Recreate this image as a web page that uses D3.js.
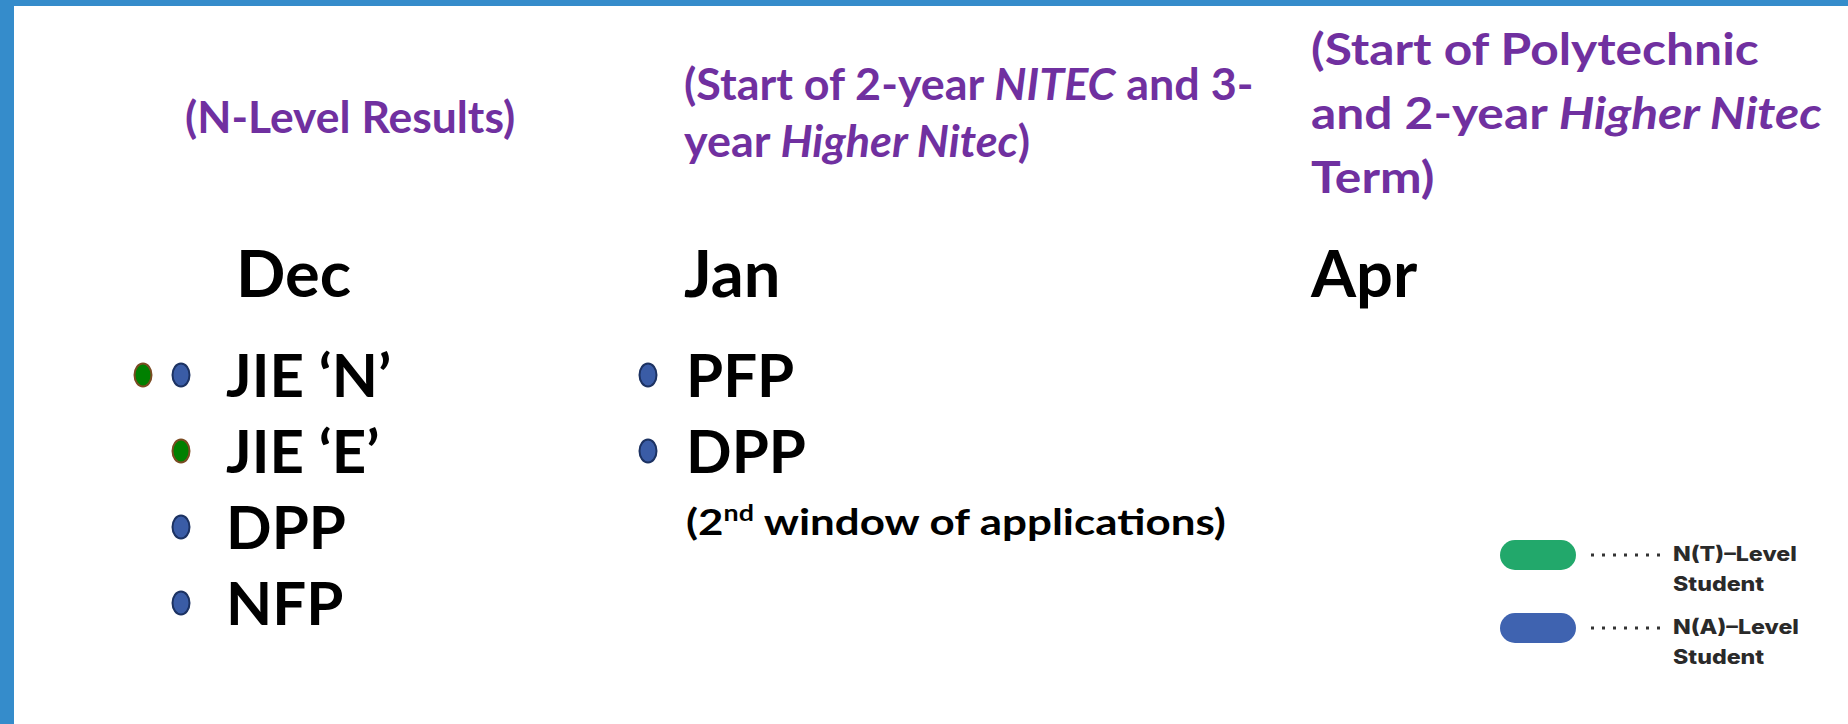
<!DOCTYPE html>
<html>
<head>
<meta charset="utf-8">
<script src="https://cdn.jsdelivr.net/npm/d3@7"></script>
<style>
  html, body { margin: 0; padding: 0; background: #fff; }
  svg { display: block; }
</style>
</head>
<body>
<div id="chart"></div>
<script>
// months across the top, left to right
var months = ["Dec", "Jan", "Apr"]

// purple captions above each month, *...* marks italic
var captions = [
  ["(N-Level Results)"],
  ["(Start of 2-year *NITEC* and 3-", "year *Higher Nitec*)"],
  ["(Start of Polytechnic", "and 2-year *Higher Nitec*", "Term)"]
]

// schemes open in each month, groups = which students (T / A)
var decItems = [
  {label: "JIE ‘N’", groups: ["T", "A"]},
  {label: "JIE ‘E’", groups: ["T"]},
  {label: "DPP", groups: ["A"]},
  {label: "NFP", groups: ["A"]}
]
var janItems = [
  {label: "PFP", groups: ["A"]},
  {label: "DPP", groups: ["A"]}
]
var aprItems = []
var janNote = ["(2", "nd", " window of applications)"]

var legendKeys = ["T", "A"]
var legendLabels = [["N(T)–Level", "Student"], ["N(A)–Level", "Student"]]

var colors = {T: "#008000", A: "#3a5ca6"}
var strokes = {T: "#7a4b22", A: "#1c3262"}
var pillColors = {T: "#22a86b", A: "#3f63b0"}

var width = 1848, height = 724

var svg = d3.select("#chart")
  .append("svg")
  .attr("width", width)
  .attr("height", height)

// frame
svg.append("rect").attr("x", 0).attr("y", 0).attr("width", width).attr("height", 6).attr("fill", "#358ccb")
svg.append("rect").attr("x", 0).attr("y", 0).attr("width", 14).attr("height", height).attr("fill", "#358ccb")

// columns
var xMonth = d3.scaleOrdinal().domain(months).range([236, 684, 1311])
var xCaption = d3.scaleOrdinal().domain(months).range([185, 684, 1311])
var xItem = d3.scaleOrdinal().domain(months).range([226, 686, 1311])
var dotGap = d3.scaleOrdinal().domain(months).range([45, 38, 40])

var captionLine = d3.scaleOrdinal().domain(months).range([0, 57, 64])
var captionTop = d3.scaleOrdinal().domain(months).range([133, 100, 65])
// Lato is a bit narrower than the slide font in places
var captionStretch = d3.scaleOrdinal().domain(months).range([1.01, 1.02, 1.13])

// item rows
var yRow = d3.scaleLinear().domain([0, 1]).range([397, 473])

var font = "Lato, 'Open Sans', sans-serif"

// captions
captions.forEach(function(lines, ci) {
  var m = months[ci]
  lines.forEach(function(line, li) {
    var t = svg.append("g")
      .attr("transform", "translate(" + xCaption(m) + "," + (captionTop(m) + li * captionLine(m)) + ")")
      .append("text")
      .attr("transform", "scale(" + captionStretch(m) + ",1)")
      .attr("font-family", font)
      .attr("font-weight", 700)
      .attr("font-size", 44)
      .attr("fill", "#7030a0")
    line.split("*").forEach(function(part, pi) {
      if (!part) return
      t.append("tspan")
        .attr("font-style", pi % 2 ? "italic" : "normal")
        .text(part)
    })
  })
})

// month labels
svg.selectAll(".month")
  .data(months)
  .enter()
  .append("text")
  .attr("class", "month")
  .attr("x", d => xMonth(d))
  .attr("y", 297)
  .attr("font-family", font)
  .attr("font-weight", 700)
  .attr("font-size", 65)
  .attr("fill", "#000")
  .text(d => d)

// bullet lists
function drawItems(items, month) {
  var g = svg.append("g").attr("class", "items " + month)

  var row = g.selectAll(".row")
    .data(items)
    .enter()
    .append("g")
    .attr("class", "row")
    .attr("transform", (d, i) => "translate(" + xItem(month) + "," + yRow(i) + ")")

  row.append("text")
    .attr("font-family", font)
    .attr("font-weight", 700)
    .attr("font-size", 60)
    .attr("fill", "#000")
    .text(d => d.label)

  row.selectAll("ellipse")
    .data(d => d.groups.slice().reverse())
    .enter()
    .append("ellipse")
    .attr("cx", (d, i) => -dotGap(month) - i * 38)
    .attr("cy", -22)
    .attr("rx", 8.5)
    .attr("ry", 11.5)
    .attr("fill", d => colors[d])
    .attr("stroke", d => strokes[d])
    .attr("stroke-width", 2)
  return g
}

drawItems(decItems, "Dec")
drawItems(janItems, "Jan")
drawItems(aprItems, "Apr")

// note under the second Jan item
var note = svg.append("g")
  .attr("transform", "translate(" + xItem("Jan") + "," + (yRow(janItems.length - 1) + 62) + ")")
  .append("text")
  .attr("transform", "scale(1.22,1)")
  .attr("font-family", font)
  .attr("font-weight", 700)
  .attr("font-size", 36)
  .attr("fill", "#000")
note.append("tspan").text(janNote[0])
note.append("tspan").attr("dy", -14).attr("font-size", 22).text(janNote[1])
note.append("tspan").attr("dy", 14).text(janNote[2])

// legend
var yLegend = d3.scaleLinear().domain([0, 1]).range([555, 628])

var leg = svg.selectAll(".legend")
  .data(legendKeys)
  .enter()
  .append("g")
  .attr("class", "legend")
  .attr("transform", (d, i) => "translate(1500," + yLegend(i) + ")")

leg.append("rect")
  .attr("x", 0)
  .attr("y", -15)
  .attr("width", 76)
  .attr("height", 30)
  .attr("rx", 15)
  .attr("fill", d => pillColors[d])

leg.append("line")
  .attr("x1", 91)
  .attr("x2", 162)
  .attr("y1", 0)
  .attr("y2", 0)
  .attr("stroke", "#333")
  .attr("stroke-width", 3)
  .attr("stroke-dasharray", "3,8")

leg.append("g")
  .attr("transform", "translate(173,6)")
  .append("text")
  .attr("transform", "scale(1.16,1)")
  .attr("font-family", "Inter, 'Noto Sans', sans-serif")
  .attr("font-weight", 800)
  .attr("font-size", 20)
  .attr("fill", "#2a2a2a")
  .selectAll("tspan")
  .data((d, i) => legendLabels[i])
  .enter()
  .append("tspan")
  .attr("x", 0)
  .attr("dy", (d, i) => i ? 30 : 0)
  .text(d => d)
</script>
</body>
</html>
